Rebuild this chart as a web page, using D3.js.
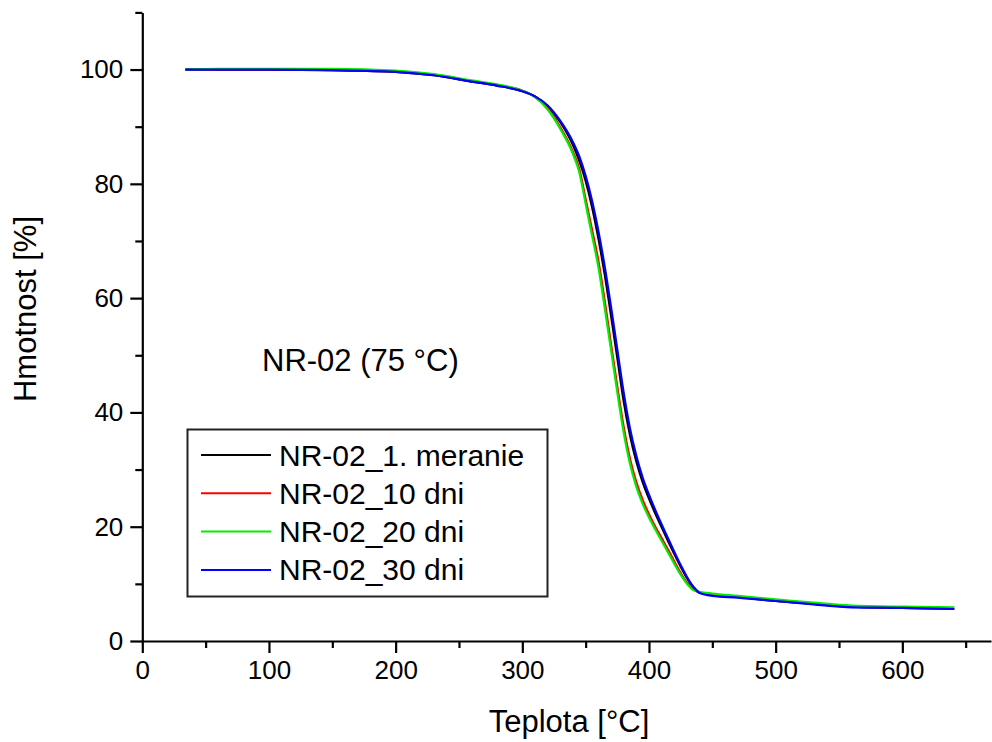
<!DOCTYPE html>
<html>
<head>
<meta charset="utf-8">
<script src="https://cdn.jsdelivr.net/npm/d3@7"></script>
<style>
  html, body { margin: 0; padding: 0; background: #fff; }
  svg { display: block; }
  text { font-family: "Liberation Sans", Arial, sans-serif; fill: #000; }
</style>
</head>
<body>
<svg id="chart" width="992" height="742"></svg>
<script>
// ---- Data ----
const temps = [34, 60, 100, 150, 200, 230, 260, 280, 300, 310, 320, 330, 340, 345, 350, 355, 360, 365, 370, 375, 380, 385, 390, 395, 400, 405, 410, 415, 420, 425, 430, 435, 440, 450, 470, 500, 530, 560, 600, 641];

const mass1 = [100, 100, 100, 99.9, 99.6, 99.0, 97.9, 97.2, 96.2, 95.3, 93.6, 90.8, 86.8, 84.0, 80.5, 76.0, 70.5, 64.2, 57.0, 49.5, 42.0, 36.0, 31.4, 27.8, 24.9, 22.3, 19.9, 17.5, 15.2, 13.0, 11.0, 9.4, 8.5, 8.1, 7.7, 7.0, 6.5, 6.0, 5.8, 5.6];
const mass10 = [100, 100, 100, 99.9, 99.7, 99.1, 98.0, 97.3, 96.3, 95.2, 93.2, 89.9, 85.6, 82.6, 77.3, 72.0, 66.6, 59.6, 52.0, 44.5, 37.5, 31.9, 27.8, 24.7, 22.2, 20.0, 18.0, 16.0, 13.9, 11.9, 10.2, 9.0, 8.5, 8.1, 7.7, 7.1, 6.5, 6.0, 5.8, 5.7];
const mass20 = [100, 100.1, 100.1, 100.1, 99.8, 99.2, 98.1, 97.4, 96.3, 95.2, 93.0, 89.6, 85.2, 82.0, 76.5, 71.0, 65.5, 58.4, 51.0, 43.5, 36.5, 31.0, 27.0, 24.0, 21.6, 19.5, 17.5, 15.5, 13.5, 11.6, 10.0, 8.9, 8.6, 8.3, 7.9, 7.3, 6.7, 6.2, 6.0, 5.9];
const mass30 = [100, 100, 100, 99.9, 99.6, 99.0, 97.9, 97.2, 96.2, 95.3, 93.7, 91.0, 87.3, 84.8, 81.4, 77.1, 71.8, 65.6, 58.5, 51.0, 43.5, 37.2, 32.4, 28.6, 25.6, 22.9, 20.4, 18.0, 15.6, 13.3, 11.2, 9.5, 8.4, 7.9, 7.6, 7.0, 6.4, 5.9, 5.8, 5.6];

const seriesNames = ["NR-02_1. meranie", "NR-02_10 dni", "NR-02_20 dni", "NR-02_30 dni"];
const seriesColors = ["#000000", "#ff0000", "#00ee00", "#0000ff"];
const seriesValues = [mass1, mass10, mass20, mass30];

const xMajorTicks = [0, 100, 200, 300, 400, 500, 600];
const xMinorTicks = [50, 150, 250, 350, 450, 550, 650];
const yMajorTicks = [0, 20, 40, 60, 80, 100];
const yMinorTicks = [10, 30, 50, 70, 90, 110];

const xTitle = "Teplota [°C]";
const yTitle = "Hmotnost [%]";
const annotation = "NR-02 (75 °C)";

// ---- Layout ----
const svg = d3.select("#chart");
const x = d3.scaleLinear().domain([0, 670]).range([142.3, 991]);
const y = d3.scaleLinear().domain([0, 110]).range([641, 12.4]);

// Curves
const line = d3.line()
  .x((d, i) => x(temps[i]))
  .y(d => y(d))
  .curve(d3.curveMonotoneX);

[0, 1, 2, 3].forEach(k => {
  svg.append("path")
    .datum(seriesValues[k])
    .attr("d", line)
    .attr("fill", "none")
    .attr("stroke", seriesColors[k])
    .attr("stroke-width", 2.2)
    .attr("stroke-linejoin", "round");
});

// Axes
const axStyle = g => {
  g.selectAll("path.domain").attr("stroke", "#000").attr("stroke-width", 2.2);
  g.selectAll(".tick line").attr("stroke", "#000").attr("stroke-width", 2.2);
};

const gx = svg.append("g").attr("transform", `translate(0,${y(0)})`)
  .call(d3.axisBottom(x).tickValues(xMajorTicks).tickSize(12).tickPadding(8).tickSizeOuter(0).tickFormat(d3.format("d")));
gx.call(axStyle);
gx.selectAll("text").attr("font-size", 26).attr("font-family", "Liberation Sans, Arial, sans-serif").attr("fill", "#000");
const gxm = svg.append("g").attr("transform", `translate(0,${y(0)})`)
  .call(d3.axisBottom(x).tickValues(xMinorTicks).tickSize(7).tickFormat("").tickSizeOuter(0));
gxm.call(axStyle);
gxm.select("path.domain").remove();

const gy = svg.append("g").attr("transform", `translate(${x(0)},0)`)
  .call(d3.axisLeft(y).tickValues(yMajorTicks).tickSize(12).tickPadding(7).tickSizeOuter(0).tickFormat(d3.format("d")));
gy.call(axStyle);
gy.selectAll("text").attr("font-size", 26).attr("font-family", "Liberation Sans, Arial, sans-serif").attr("fill", "#000");
const gym = svg.append("g").attr("transform", `translate(${x(0)},0)`)
  .call(d3.axisLeft(y).tickValues(yMinorTicks).tickSize(7).tickFormat("").tickSizeOuter(0));
gym.call(axStyle);
gym.select("path.domain").remove();

// Axis titles
svg.append("text")
  .attr("x", 569).attr("y", 732)
  .attr("text-anchor", "middle")
  .attr("font-size", 31)
  .text(xTitle);

svg.append("text")
  .attr("transform", "translate(36,309) rotate(-90)")
  .attr("text-anchor", "middle")
  .attr("font-size", 31)
  .text(yTitle);

// Annotation
svg.append("text")
  .attr("x", 262).attr("y", 371)
  .attr("font-size", 31)
  .text(annotation);

// Legend
const lg = svg.append("g");
lg.append("rect")
  .attr("x", 187.5).attr("y", 429.5)
  .attr("width", 360).attr("height", 167)
  .attr("fill", "#fff")
  .attr("stroke", "#222")
  .attr("stroke-width", 2);
seriesNames.forEach((name, i) => {
  const cy = 455 + i * 38.3;
  lg.append("line")
    .attr("x1", 201).attr("x2", 271)
    .attr("y1", cy).attr("y2", cy)
    .attr("stroke", seriesColors[i]).attr("stroke-width", 2);
  lg.append("text")
    .attr("x", 279).attr("y", cy + 10.5)
    .attr("font-size", 30)
    .text(name);
});
</script>
</body>
</html>
